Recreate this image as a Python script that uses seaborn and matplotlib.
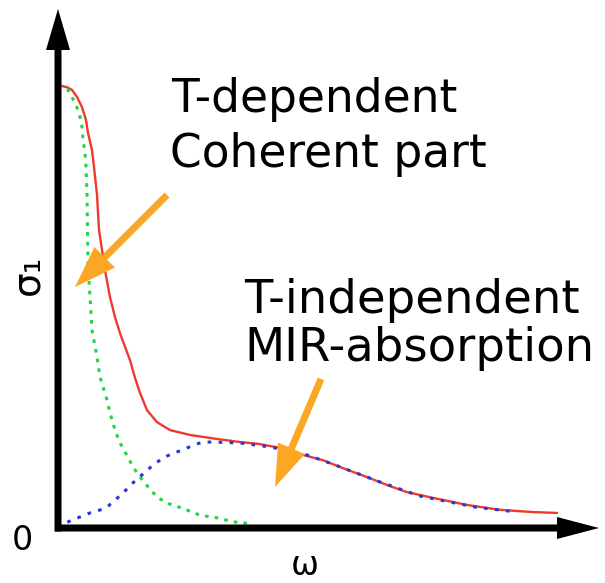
import matplotlib
matplotlib.use("Agg")
import matplotlib.pyplot as plt
from matplotlib.patches import ArrowStyle
import seaborn as sns

# Optical conductivity sketch: coherent (Drude) part + mid-infrared absorption
omega_total = [0.00, 0.18, 0.28, 0.38, 0.48, 0.56, 0.60, 0.68, 0.72, 0.78, 0.82, 0.88,
               0.94, 1.04, 1.14, 1.24, 1.34, 1.44, 1.54, 1.64, 1.78, 1.98, 2.24, 2.64,
               3.18, 3.64, 4.00, 4.44, 4.90, 5.30, 5.70, 6.18, 6.58, 6.98, 7.50, 8.18,
               8.84, 9.50, 9.98]
sigma_total = [10.00, 9.95, 9.89, 9.73, 9.50, 9.21, 8.92, 8.53, 8.15, 7.52, 6.73, 6.28,
               5.82, 5.21, 4.76, 4.40, 4.09, 3.79, 3.39, 3.05, 2.66, 2.39, 2.21, 2.10,
               2.01, 1.94, 1.90, 1.81, 1.65, 1.53, 1.35, 1.15, 0.97, 0.81, 0.68, 0.52,
               0.41, 0.36, 0.34]

omega_coherent = [0.00, 0.20, 0.28, 0.34, 0.40, 0.44, 0.48, 0.50, 0.54, 0.56, 0.58, 0.59,
                  0.60, 0.64, 0.68, 0.78, 0.84, 0.98, 1.04, 1.14, 1.24, 1.34, 1.50, 1.64,
                  1.80, 1.98, 2.18, 2.48, 2.84, 3.18, 3.50, 3.90]
sigma_coherent = [10.00, 9.89, 9.73, 9.59, 9.44, 9.28, 9.05, 8.76, 8.47, 8.15, 7.56, 6.73,
                  5.98, 5.21, 4.47, 3.86, 3.41, 2.89, 2.60, 2.21, 1.92, 1.72, 1.38, 1.15,
                  0.93, 0.70, 0.56, 0.45, 0.29, 0.23, 0.14, 0.09]

omega_mir = [0.00, 0.10, 0.44, 0.64, 0.78, 0.98, 1.14, 1.30, 1.50, 1.68, 1.90, 2.10,
             2.30, 2.50, 2.70, 2.90, 3.10, 3.64, 4.24, 4.98, 5.50, 6.44, 7.24, 8.36, 9.18]
sigma_mir = [0.00, 0.09, 0.25, 0.34, 0.38, 0.47, 0.63, 0.79, 1.02, 1.20, 1.42, 1.58,
             1.69, 1.76, 1.87, 1.94, 1.94, 1.92, 1.83, 1.65, 1.44, 1.04, 0.72, 0.47, 0.36]

label_coherent = ["T-dependent", "Coherent part"]
label_mir = ["T-independent", "MIR-absorption"]
x_label = "ω"
y_label = "σ₁"
origin_label = "0"

sns.set_style("white")
plt.rcParams["font.family"] = ["DejaVu Sans"]

W, H, DPI = 605, 583, 100
fig = plt.figure(figsize=(W / DPI, H / DPI), dpi=DPI)
ax = fig.add_axes([0, 0, 1, 1])

# pixel geometry of the canvas: origin at (58, 528), 50 px per omega unit, 44.3 px per sigma unit
X0, Y0, SX, SY = 58, 528, 50.0, 44.3
ax.set_xlim(-X0 / SX, (W - X0) / SX)
ax.set_ylim((Y0 - H) / SY, Y0 / SY)
ax.axis("off")


def pt(px, py):
    return ((px - X0) / SX, (Y0 - py) / SY)


PX = 72.0 / DPI  # mutation scale giving one unit per pixel

# axes drawn as thick black arrows
ax.annotate("", xy=pt(599, 528), xytext=pt(55, 528),
            arrowprops=dict(arrowstyle=ArrowStyle.Simple(head_length=42, head_width=22, tail_width=7),
                            mutation_scale=PX, color="black", lw=0, shrinkA=0, shrinkB=0))
ax.annotate("", xy=pt(58, 9), xytext=pt(58, 531.5),
            arrowprops=dict(arrowstyle=ArrowStyle.Simple(head_length=41, head_width=24, tail_width=7),
                            mutation_scale=PX, color="black", lw=0, shrinkA=0, shrinkB=0))

sns.lineplot(x=omega_total, y=sigma_total, ax=ax, color="#EE3A2C", lw=1.7,
             sort=False, estimator=None)
sns.lineplot(x=omega_coherent, y=sigma_coherent, ax=ax, color="#22D544", lw=2.2,
             linestyle=(0, (1.2, 2.0)), sort=False, estimator=None)
sns.lineplot(x=omega_mir, y=sigma_mir, ax=ax, color="#2638DA", lw=2.2,
             linestyle=(0, (1.2, 2.4)), sort=False, estimator=None)

# orange pointer arrows
orange = "#FBA724"
pointer = ArrowStyle.Simple(head_length=42, head_width=29, tail_width=7)
ax.annotate("", xy=pt(75, 287), xytext=pt(167, 195),
            arrowprops=dict(arrowstyle=pointer, mutation_scale=PX, color=orange, lw=0,
                            shrinkA=0, shrinkB=0))
ax.annotate("", xy=pt(275, 487), xytext=pt(321, 379),
            arrowprops=dict(arrowstyle=pointer, mutation_scale=PX, color=orange, lw=0,
                            shrinkA=0, shrinkB=0))

fs = 32.8
ax.text(*pt(171, 112), label_coherent[0], fontsize=fs, ha="left", va="baseline", color="black")
ax.text(*pt(170, 167), label_coherent[1], fontsize=fs, ha="left", va="baseline", color="black")
ax.text(*pt(244, 313), label_mir[0], fontsize=33.5, ha="left", va="baseline", color="black")
ax.text(*pt(244, 361), label_mir[1], fontsize=33.5, ha="left", va="baseline", color="black")

ax.text(*pt(27, 275), y_label, fontsize=28, rotation=90, ha="center", va="center", color="black")
ax.text(*pt(22, 541), origin_label, fontsize=24, ha="center", va="center", color="black")
ax.text(*pt(305, 582), x_label, fontsize=24, ha="center", va="bottom", color="black")

fig.savefig("out.png", dpi=DPI)
